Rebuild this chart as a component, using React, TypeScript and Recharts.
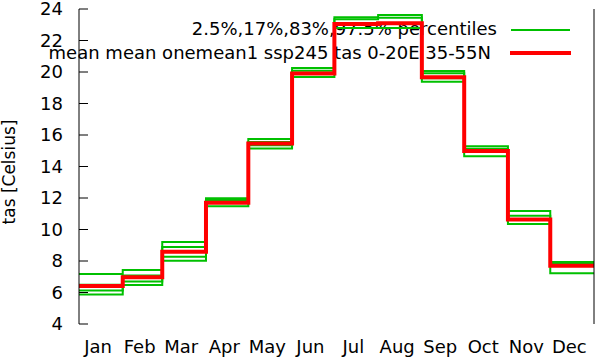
import React from 'react';
import { LineChart, Line, XAxis, YAxis, Customized } from 'recharts';

// ---- data ----
const months = ['Jan', 'Feb', 'Mar', 'Apr', 'May', 'Jun', 'Jul', 'Aug', 'Sep', 'Oct', 'Nov', 'Dec'];
const monthDays = [31, 28, 31, 30, 31, 30, 31, 31, 30, 31, 30, 31];
const yTicks = [4, 6, 8, 10, 12, 14, 16, 18, 20, 22, 24];

const p025 = [5.88, 6.48, 8.02, 11.47, 15.15, 19.68, 22.8, 22.8, 19.38, 14.65, 10.35, 7.22];
const p17 = [6.13, 6.7, 8.27, 11.68, 15.35, 19.88, 23.0, 23.1, 19.6, 14.95, 10.6, 7.7];
const p83 = [6.5, 7.08, 8.89, 11.87, 15.55, 20.08, 23.35, 23.45, 19.92, 15.12, 10.87, 7.82];
const p975 = [7.18, 7.43, 9.21, 11.98, 15.74, 20.25, 23.47, 23.62, 20.07, 15.28, 11.17, 7.93];
const meanVals = [6.42, 6.97, 8.59, 11.7, 15.46, 19.91, 23.05, 23.1, 19.66, 14.98, 10.63, 7.7];

const legendPct = '2.5%,17%,83%,97.5% percentiles';
const legendMean = 'mean mean onemean1 ssp245 tas 0-20E 35-55N';
const yLabel = 'tas [Celsius]';

// ---- derived tables ----
const boundaries = monthDays.reduce<number[]>((acc, d) => [...acc, acc[acc.length - 1] + d], [0]);
const labelPos = months.map((_, i) => boundaries[i] + monthDays[i] / 2 - 2);
const data = boundaries.map((day, i) => {
  const k = Math.min(i, 11);
  return { day, p025: p025[k], p17: p17[k], p83: p83[k], p975: p975[k], mean: meanVals[k] };
});

const FONT = 'DejaVu Sans';
const GREEN = '#00c000';
const RED = '#ff0000';

function Overlay() {
  return (
    <g>
      <text x={15} y={172} transform="rotate(-90 15 172)" textAnchor="middle" fontSize={17} fontFamily={FONT} fill="#000">
        {yLabel}
      </text>
      <text x={497} y={35} textAnchor="end" fontSize={18} fontFamily={FONT} fill="#000">
        {legendPct}
      </text>
      <line x1={511} x2={570} y1={30} y2={30} stroke={GREEN} strokeWidth={2} />
      <text x={491} y={58.5} textAnchor="end" fontSize={18} fontFamily={FONT} fill="#000">
        {legendMean}
      </text>
      <line x1={510} x2={571} y1={53} y2={53} stroke={RED} strokeWidth={4} />
    </g>
  );
}

export default function App() {
  const tickStyle = { fontSize: 18, fill: '#000', fontFamily: FONT };
  return (
    <div style={{ position: 'absolute', left: 0, top: 0, background: '#fff' }}>
      <LineChart
        width={595}
        height={358}
        data={data}
        margin={{ top: 9, right: 0, bottom: 0, left: 0 }}
        style={{ fontFamily: FONT }}
      >
        <Customized component={Overlay} />
        <XAxis
          xAxisId="b"
          dataKey="day"
          type="number"
          domain={[0, 365]}
          ticks={boundaries.slice(1, -1)}
          interval={0}
          height={0}
          tick={false}
          tickSize={-9}
          stroke="#000"
        />
        <XAxis
          xAxisId="m"
          dataKey="day"
          type="number"
          domain={[0, 365]}
          ticks={labelPos}
          interval={0}
          height={34}
          tickLine={false}
          axisLine={false}
          tickMargin={10}
          tick={tickStyle}
          tickFormatter={(v: number) => months[labelPos.indexOf(v)]}
        />
        <XAxis
          xAxisId="t"
          orientation="top"
          dataKey="day"
          type="number"
          domain={[0, 365]}
          height={0}
          tick={false}
          tickLine={false}
          stroke="#000"
        />
        <YAxis
          yAxisId="l"
          type="number"
          domain={[4, 24]}
          ticks={yTicks}
          interval={0}
          width={79}
          tickSize={-9}
          tickMargin={25}
          tick={tickStyle}
          stroke="#000"
        />
        <YAxis
          yAxisId="r"
          orientation="right"
          type="number"
          domain={[4, 24]}
          ticks={yTicks}
          interval={0}
          width={1}
          tickSize={-9}
          tick={false}
          stroke="#000"
        />
        {['p025', 'p17', 'p83', 'p975'].map((k) => (
          <Line
            key={k}
            xAxisId="b"
            yAxisId="l"
            dataKey={k}
            type="stepAfter"
            stroke={GREEN}
            strokeWidth={2}
            dot={false}
            isAnimationActive={false}
          />
        ))}
        <Line
          xAxisId="b"
          yAxisId="l"
          dataKey="mean"
          type="stepAfter"
          stroke={RED}
          strokeWidth={4}
          dot={false}
          isAnimationActive={false}
        />
      </LineChart>
    </div>
  );
}
